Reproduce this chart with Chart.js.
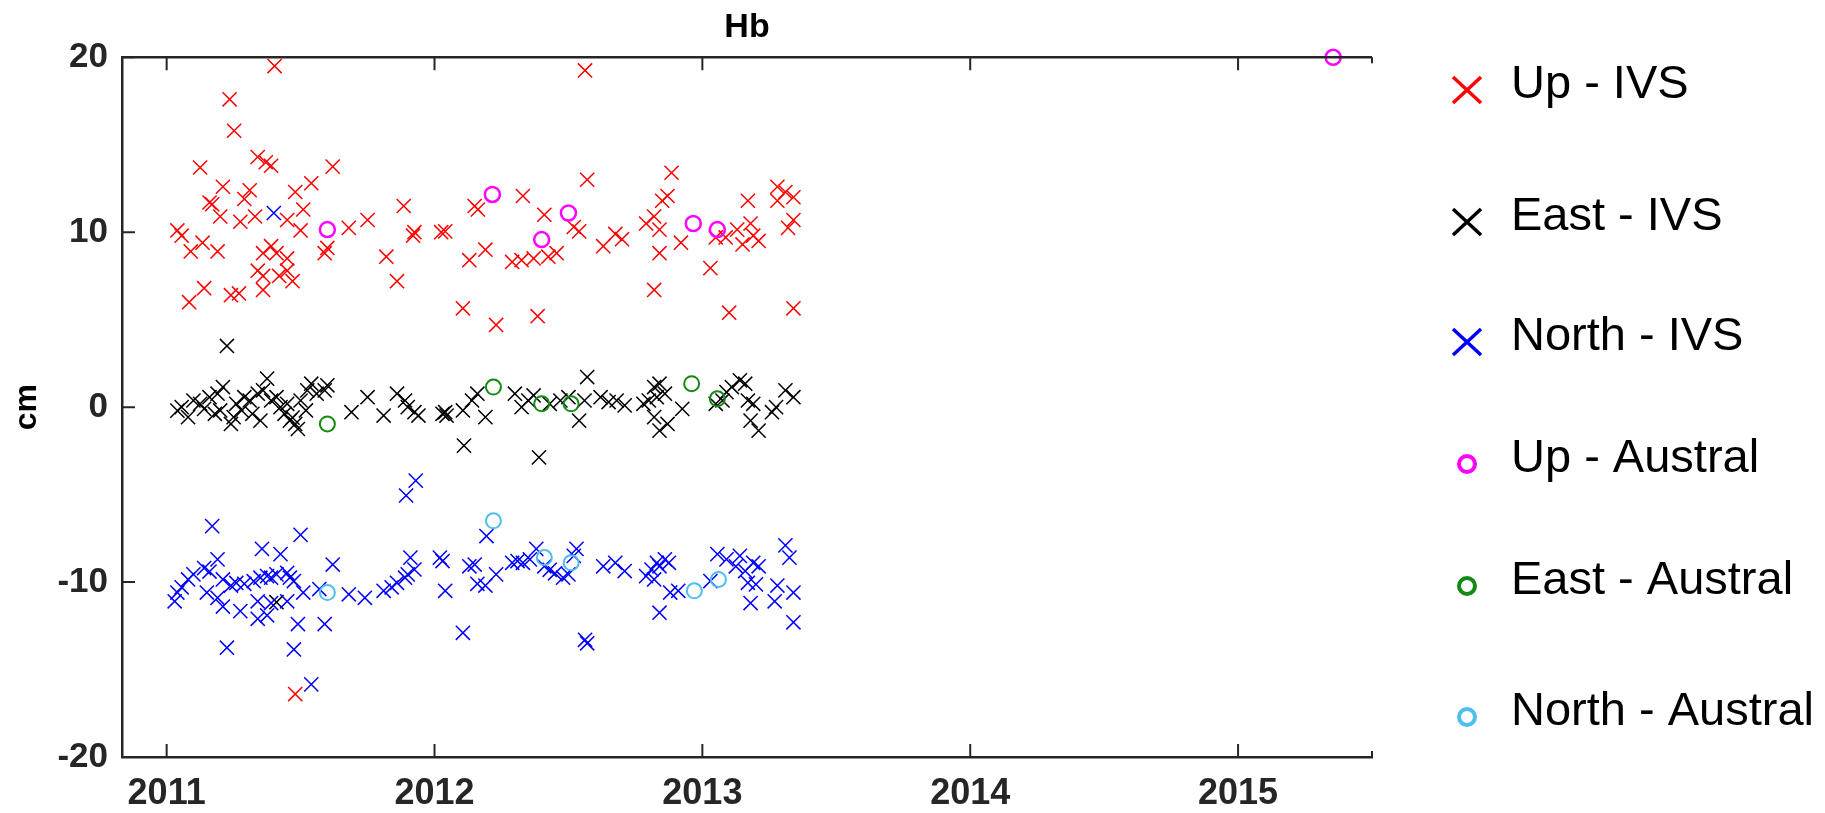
<!DOCTYPE html>
<html>
<head>
<meta charset="UTF-8">
<title>Hb</title>
<script src="https://cdn.jsdelivr.net/npm/chart.js@4.4.1/dist/chart.umd.min.js"></script>
<style>
  html, body { margin: 0; padding: 0; background: #fff; }
  #wrap { width: 1825px; height: 813px; }
</style>
</head>
<body>
<div id="wrap"><canvas id="hbChart"></canvas></div>
<script>
// Datos (año decimal, cm)
const xTickValues = [2011, 2012, 2013, 2014, 2015];
const yTickValues = [-20, -10, 0, 10, 20];

const upIvs = [
  [2011.04, 10.1], [2011.056, 9.8], [2011.084, 6.0], [2011.09, 8.9], [2011.125, 13.7], [2011.134, 9.4],
  [2011.14, 6.8], [2011.16, 11.7], [2011.17, 11.6], [2011.19, 8.9], [2011.2, 10.9], [2011.21, 12.6],
  [2011.235, 17.6], [2011.24, 6.4], [2011.252, 15.8], [2011.27, 6.5], [2011.275, 10.6], [2011.29, 11.9],
  [2011.31, 12.4], [2011.33, 10.9], [2011.34, 14.3], [2011.34, 7.8], [2011.36, 8.8], [2011.36, 7.5],
  [2011.36, 6.7], [2011.37, 14.0], [2011.39, 13.8], [2011.39, 9.2], [2011.403, 19.5], [2011.41, 8.8],
  [2011.42, 7.5], [2011.45, 10.7], [2011.45, 8.5], [2011.45, 7.8], [2011.47, 7.2], [2011.48, 12.3],
  [2011.48, -16.4], [2011.5, 10.1], [2011.51, 11.3], [2011.54, 12.8], [2011.59, 8.8], [2011.6, 9.1],
  [2011.62, 13.75], [2011.68, 10.25], [2011.75, 10.7], [2011.82, 8.6], [2011.86, 7.2], [2011.885, 11.5],
  [2011.92, 9.8], [2011.925, 10.0], [2012.025, 10.0], [2012.04, 10.05], [2012.106, 5.65], [2012.13, 8.4],
  [2012.15, 11.5], [2012.162, 11.3], [2012.19, 9.0], [2012.23, 4.7], [2012.29, 8.3], [2012.325, 8.4],
  [2012.33, 12.07], [2012.37, 8.5], [2012.385, 5.2], [2012.41, 11.0], [2012.425, 8.6], [2012.456, 8.8],
  [2012.52, 10.3], [2012.54, 10.05], [2012.562, 19.25], [2012.57, 13.0], [2012.63, 9.2], [2012.675, 9.9],
  [2012.7, 9.6], [2012.79, 10.5], [2012.82, 10.9], [2012.82, 6.7], [2012.84, 10.15], [2012.84, 8.8],
  [2012.85, 11.8], [2012.87, 12.07], [2012.885, 13.4], [2012.92, 9.4], [2013.03, 7.95], [2013.05, 9.7],
  [2013.087, 9.7], [2013.1, 5.4], [2013.13, 10.15], [2013.15, 9.3], [2013.17, 11.8], [2013.18, 10.5],
  [2013.19, 9.8], [2013.21, 9.5], [2013.28, 12.6], [2013.28, 11.8], [2013.31, 12.3], [2013.32, 10.25],
  [2013.34, 12.0], [2013.34, 10.7], [2013.34, 5.65]
];

const eastIvs = [
  [2011.04, -0.2], [2011.056, 0.0], [2011.08, -0.57], [2011.1, 0.38], [2011.125, 0.19], [2011.14, -0.1],
  [2011.16, 0.57], [2011.18, -0.38], [2011.19, 0.77], [2011.2, -0.19], [2011.21, 1.15], [2011.225, 3.5],
  [2011.24, -0.96], [2011.25, -0.57], [2011.26, 0.19], [2011.28, -0.19], [2011.29, 0.57], [2011.31, 0.38],
  [2011.32, -0.38], [2011.34, 0.77], [2011.35, -0.77], [2011.36, 0.96], [2011.375, 1.63], [2011.39, 0.38],
  [2011.41, 0.57], [2011.41, -11.15], [2011.425, 0.0], [2011.44, -0.38], [2011.45, 0.19], [2011.46, -0.77],
  [2011.47, -0.6], [2011.48, -0.96], [2011.49, -1.25], [2011.5, 0.38], [2011.52, -0.19], [2011.525, 0.96],
  [2011.54, 1.34], [2011.56, 0.77], [2011.59, 0.96], [2011.6, 1.25], [2011.69, -0.29], [2011.75, 0.57],
  [2011.81, -0.48], [2011.86, 0.77], [2011.89, 0.38], [2011.9, 0.0], [2011.925, -0.29], [2011.94, -0.48],
  [2012.03, -0.38], [2012.04, -0.29], [2012.045, -0.48], [2012.106, -0.19], [2012.11, -2.2], [2012.14, 0.38],
  [2012.16, 0.77], [2012.19, -0.57], [2012.3, 0.77], [2012.325, 0.0], [2012.35, 0.38], [2012.37, 0.67],
  [2012.39, -2.87], [2012.43, 0.19], [2012.47, 0.38], [2012.5, 0.57], [2012.54, -0.77], [2012.56, 0.38],
  [2012.57, 1.72], [2012.62, 0.57], [2012.65, 0.29], [2012.68, 0.38], [2012.71, 0.1], [2012.78, 0.19],
  [2012.8, 0.38], [2012.82, 1.15], [2012.82, -0.57], [2012.83, 0.57], [2012.84, 1.34], [2012.84, -1.34],
  [2012.86, 0.77], [2012.87, -0.96], [2012.925, -0.1], [2013.05, 0.19], [2013.075, 0.38], [2013.09, 0.86],
  [2013.11, 1.15], [2013.14, 1.53], [2013.16, 1.34], [2013.17, 0.38], [2013.18, -0.77], [2013.19, 0.19],
  [2013.21, -1.34], [2013.26, -0.29], [2013.275, 0.0], [2013.31, 0.96], [2013.34, 0.57]
];

const northIvs = [
  [2011.03, -11.1], [2011.04, -10.6], [2011.056, -10.3], [2011.08, -9.85], [2011.1, -9.56], [2011.14, -9.2],
  [2011.15, -10.6], [2011.16, -9.4], [2011.17, -6.8], [2011.19, -8.7], [2011.19, -10.9], [2011.21, -9.85],
  [2011.21, -11.4], [2011.225, -13.75], [2011.24, -10.2], [2011.26, -10.05], [2011.275, -11.66], [2011.29, -10.1],
  [2011.325, -9.95], [2011.34, -12.1], [2011.34, -11.1], [2011.35, -9.75], [2011.356, -8.1], [2011.375, -9.66],
  [2011.375, -11.9], [2011.39, -9.75], [2011.39, -11.2], [2011.4, 11.1], [2011.41, -9.56], [2011.425, -8.4],
  [2011.45, -9.47], [2011.45, -11.1], [2011.46, -9.75], [2011.475, -9.94], [2011.475, -13.85], [2011.49, -12.4],
  [2011.5, -7.3], [2011.51, -10.6], [2011.54, -15.85], [2011.57, -10.4], [2011.59, -12.4], [2011.62, -9.0],
  [2011.68, -10.7], [2011.74, -10.9], [2011.81, -10.5], [2011.84, -10.3], [2011.86, -10.04], [2011.89, -9.75],
  [2011.894, -5.05], [2011.9, -9.56], [2011.91, -8.6], [2011.925, -9.28], [2011.93, -4.2], [2012.02, -8.6],
  [2012.03, -8.8], [2012.04, -10.5], [2012.106, -12.9], [2012.13, -9.1], [2012.15, -9.0], [2012.16, -10.1],
  [2012.19, -10.2], [2012.194, -7.37], [2012.23, -9.56], [2012.29, -8.9], [2012.31, -8.8], [2012.33, -8.9],
  [2012.356, -8.7], [2012.38, -8.1], [2012.41, -9.1], [2012.43, -9.3], [2012.45, -9.5], [2012.48, -9.75],
  [2012.5, -9.56], [2012.52, -8.5], [2012.53, -8.1], [2012.562, -13.3], [2012.57, -13.5], [2012.63, -9.1],
  [2012.675, -8.9], [2012.71, -9.37], [2012.79, -9.66], [2012.81, -9.28], [2012.82, -9.85], [2012.83, -8.9],
  [2012.84, -9.1], [2012.84, -11.75], [2012.86, -8.7], [2012.875, -8.9], [2012.88, -10.6], [2012.91, -10.5],
  [2013.03, -9.94], [2013.056, -8.4], [2013.09, -8.7], [2013.125, -9.1], [2013.14, -8.5], [2013.16, -9.37],
  [2013.17, -10.04], [2013.18, -11.2], [2013.19, -8.9], [2013.2, -10.13], [2013.21, -9.1], [2013.27, -11.1],
  [2013.28, -10.2], [2013.31, -7.9], [2013.325, -8.6], [2013.34, -10.6], [2013.34, -12.3]
];

const upAustral = [[2011.6, 10.15], [2012.216, 12.16], [2012.4, 9.58], [2012.5, 11.1], [2012.966, 10.5], [2013.056, 10.15], [2015.355, 20]];
const eastAustral = [[2011.6, -0.96], [2012.22, 1.15], [2012.4, 0.19], [2012.51, 0.19], [2012.96, 1.34], [2013.056, 0.48]];
const northAustral = [[2011.6, -10.6], [2012.22, -6.5], [2012.41, -8.6], [2012.51, -8.9], [2012.97, -10.5], [2013.06, -9.85]];

const seriesNames = ['Up - IVS', 'East - IVS', 'North - IVS', 'Up - Austral', 'East - Austral', 'North - Austral'];
const seriesData = [upIvs, eastIvs, northIvs, upAustral, eastAustral, northAustral];
const seriesColors = ['#ff0000', '#000000', '#0000ff', '#ff00ff', '#138a13', '#4dbeee'];

const FONT = '"Liberation Sans", Arial, sans-serif';
const AXIS_COLOR = '#262626';

const datasets = seriesData.map((pts, i) => {
  const cross = i < 3;
  return {
    label: seriesNames[i],
    data: pts.map(p => ({ x: p[0], y: p[1] })),
    pointStyle: cross ? 'crossRot' : 'circle',
    pointRadius: cross ? 10 : 7.5,
    pointHoverRadius: cross ? 10 : 7.5,
    borderColor: seriesColors[i],
    backgroundColor: 'rgba(0,0,0,0)',
    borderWidth: cross ? 1.5 : (i === 3 ? 2.5 : 2),
    pointHoverBorderWidth: cross ? 1.5 : 2.5,
    showLine: false,
    clip: false,
    order: 6 - i
  };
});

// Ejes estilo MATLAB (marcas hacia dentro, línea superior) y leyenda a la derecha
const matlabAxes = {
  id: 'matlabAxes',
  afterDraw(chart) {
    const { ctx, chartArea: a, scales: { x, y } } = chart;
    ctx.save();
    ctx.strokeStyle = AXIS_COLOR;
    ctx.lineWidth = 2.5;
    ctx.beginPath();
    ctx.moveTo(a.left, a.top);
    ctx.lineTo(a.right, a.top);
    ctx.stroke();

    ctx.lineWidth = 2;
    ctx.beginPath();
    xTickValues.forEach(v => {
      const px = x.getPixelForValue(v);
      ctx.moveTo(px, a.bottom);
      ctx.lineTo(px, a.bottom - 13);
      ctx.moveTo(px, a.top);
      ctx.lineTo(px, a.top + 13);
    });
    yTickValues.forEach(v => {
      const py = y.getPixelForValue(v);
      ctx.moveTo(a.left, py);
      ctx.lineTo(a.left + 13, py);
    });
    // pequeños remates en el extremo derecho
    ctx.moveTo(a.right, a.top);
    ctx.lineTo(a.right, a.top + 6);
    ctx.moveTo(a.right, a.bottom);
    ctx.lineTo(a.right, a.bottom - 6);
    ctx.stroke();

    // leyenda
    const textY = [85, 217, 337, 459, 581, 712];
    const markerX = 1467;
    ctx.font = '47px ' + FONT;
    ctx.textBaseline = 'middle';
    ctx.textAlign = 'left';
    chart.data.datasets.forEach((ds, i) => {
      const my = textY[i] + 5;
      ctx.strokeStyle = ds.borderColor;
      if (ds.pointStyle === 'crossRot') {
        ctx.lineWidth = 3.5;
        ctx.beginPath();
        ctx.moveTo(markerX - 14, my - 13);
        ctx.lineTo(markerX + 14, my + 13);
        ctx.moveTo(markerX - 14, my + 13);
        ctx.lineTo(markerX + 14, my - 13);
        ctx.stroke();
      } else {
        ctx.lineWidth = 4;
        ctx.beginPath();
        ctx.arc(markerX, my, 8, 0, Math.PI * 2);
        ctx.stroke();
      }
      ctx.fillStyle = '#000';
      ctx.fillText(ds.label, 1511, textY[i]);
    });
    ctx.restore();
  }
};

const ctx = document.getElementById('hbChart').getContext('2d');
new Chart(ctx, {
  type: 'scatter',
  data: { datasets },
  options: {
    responsive: true,
    maintainAspectRatio: false,
    animation: false,
    events: [],
    devicePixelRatio: 1,
    layout: { padding: { left: 0, right: 453, top: 0, bottom: 0 } },
    plugins: {
      legend: { display: false },
      tooltip: { enabled: false },
      title: {
        display: true,
        text: 'Hb',
        fullSize: false,
        color: '#000',
        font: { family: FONT, size: 34, weight: 'bold' },
        padding: { top: 7, bottom: 9.5 }
      }
    },
    scales: {
      x: {
        type: 'linear',
        min: 2010.8333,
        max: 2015.5,
        afterBuildTicks: s => { s.ticks = xTickValues.map(v => ({ value: v })); },
        afterFit: s => { s.height = 56; },
        grid: { display: false, drawTicks: false },
        border: { display: true, color: AXIS_COLOR, width: 2.5 },
        ticks: {
          autoSkip: false,
          maxRotation: 0,
          padding: 15,
          color: AXIS_COLOR,
          font: { family: FONT, size: 36, weight: 'bold' },
          callback: v => String(v)
        }
      },
      y: {
        type: 'linear',
        min: -20,
        max: 20,
        afterBuildTicks: s => { s.ticks = yTickValues.map(v => ({ value: v })); },
        afterFit: s => { s.width = 122; },
        grid: { display: false, drawTicks: false },
        border: { display: true, color: AXIS_COLOR, width: 2.5 },
        title: {
          display: true,
          text: 'cm',
          color: '#000',
          font: { family: FONT, size: 32, weight: 'bold' },
          padding: { top: 7.5, bottom: 0 }
        },
        ticks: {
          padding: 14,
          color: AXIS_COLOR,
          font: { family: FONT, size: 35, weight: 'bold' },
          callback: v => String(v)
        }
      }
    }
  },
  plugins: [matlabAxes]
});
</script>
</body>
</html>
